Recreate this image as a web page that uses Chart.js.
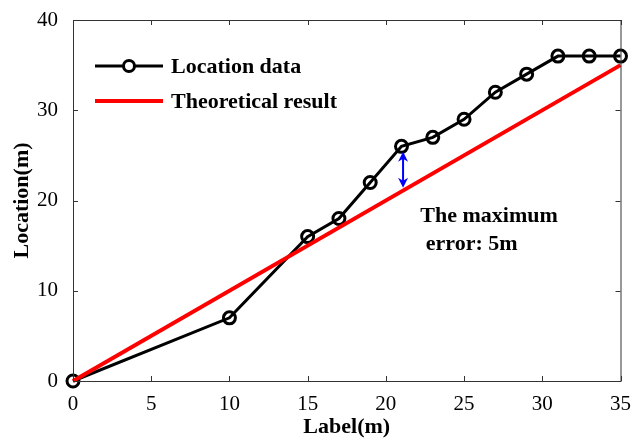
<!DOCTYPE html>
<html>
<head>
<meta charset="utf-8">
<script src="https://cdn.jsdelivr.net/npm/chart.js@4/dist/chart.umd.min.js"></script>
<style>
  html, body { margin: 0; padding: 0; background: #fff; }
  #wrap { width: 634px; height: 441px; }
</style>
</head>
<body>
<div id="wrap"><canvas id="c" width="634" height="441"></canvas></div>
<script>
// Data
const labelX    = [0, 10, 15, 17, 19, 21, 23, 25, 27, 29, 31, 33, 35];
const locationY = [0, 7, 16, 18, 22, 26, 27, 29, 32, 34, 36, 36, 36];
const theoryX   = [0, 35];
const theoryY   = [0, 35];
const xTicks    = [0, 5, 10, 15, 20, 25, 30, 35];
const yTicks    = [0, 10, 20, 30, 40];
const errorAt   = { x: 21.1, from: 25.4, to: 21.4 };
const noteLines = ['The maximum', ' error: 5m'];

const SERIF = '"Liberation Serif", "Times New Roman", serif';
const AXIS  = '#333';

// inward MATLAB-style ticks + full box
const boxTicks = {
  id: 'boxTicks',
  afterDraw(chart) {
    const { ctx, chartArea: a, scales: { x, y } } = chart;
    ctx.save();
    ctx.strokeStyle = AXIS;
    ctx.lineWidth = 1;
    ctx.strokeRect(a.left + 0.5, a.top + 0.5, a.right - a.left, a.bottom - a.top);
    ctx.beginPath();
    xTicks.forEach(v => {
      const px = Math.round(x.getPixelForValue(v)) + 0.5;
      ctx.moveTo(px, a.bottom); ctx.lineTo(px, a.bottom - 5);
      ctx.moveTo(px, a.top);    ctx.lineTo(px, a.top + 5);
    });
    yTicks.forEach(v => {
      const py = Math.round(y.getPixelForValue(v)) + 0.5;
      ctx.moveTo(a.left, py);  ctx.lineTo(a.left + 5, py);
      ctx.moveTo(a.right, py); ctx.lineTo(a.right - 5, py);
    });
    ctx.stroke();
    ctx.restore();
  }
};

// legend inside the axes, annotation arrow and note
const extras = {
  id: 'extras',
  afterDraw(chart) {
    const { ctx, chartArea: a, scales: { x, y } } = chart;
    ctx.save();

    // legend
    const lx = a.left + 22, ly = a.top + 46;
    ctx.lineWidth = 3;
    ctx.strokeStyle = '#000';
    ctx.beginPath(); ctx.moveTo(lx, ly); ctx.lineTo(lx + 68, ly); ctx.stroke();
    ctx.fillStyle = '#fff';
    ctx.beginPath(); ctx.arc(lx + 34, ly, 5.5, 0, Math.PI * 2); ctx.fill(); ctx.stroke();
    ctx.strokeStyle = '#ff0000';
    ctx.lineWidth = 4;
    ctx.beginPath(); ctx.moveTo(lx, ly + 35); ctx.lineTo(lx + 68, ly + 35); ctx.stroke();
    ctx.fillStyle = '#000';
    ctx.font = 'bold 22px ' + SERIF;
    ctx.textBaseline = 'middle';
    ctx.fillText('Location data', lx + 76, ly + 1);
    ctx.fillText('Theoretical result', lx + 76, ly + 36);

    // error arrow
    const ax = x.getPixelForValue(errorAt.x);
    const y1 = y.getPixelForValue(errorAt.from);
    const y2 = y.getPixelForValue(errorAt.to);
    ctx.strokeStyle = '#0000ff';
    ctx.fillStyle = '#0000ff';
    ctx.lineWidth = 2;
    ctx.beginPath(); ctx.moveTo(ax, y1 + 4); ctx.lineTo(ax, y2 - 4); ctx.stroke();
    ctx.beginPath(); ctx.moveTo(ax, y1); ctx.lineTo(ax - 5, y1 + 10); ctx.lineTo(ax, y1 + 7); ctx.lineTo(ax + 5, y1 + 10); ctx.closePath(); ctx.fill();
    ctx.beginPath(); ctx.moveTo(ax, y2); ctx.lineTo(ax - 5, y2 - 10); ctx.lineTo(ax, y2 - 7); ctx.lineTo(ax + 5, y2 - 10); ctx.closePath(); ctx.fill();

    // note
    ctx.fillStyle = '#000';
    ctx.font = 'bold 22px ' + SERIF;
    ctx.textBaseline = 'middle';
    ctx.textAlign = 'left';
    const nx = x.getPixelForValue(22.2);
    ctx.fillText(noteLines[0], nx, y.getPixelForValue(18.2));
    ctx.fillText(noteLines[1], nx, y.getPixelForValue(15.2));
    ctx.restore();
  }
};

new Chart(document.getElementById('c'), {
  type: 'line',
  data: {
    datasets: [
      {
        label: 'Location data',
        data: labelX.map((v, i) => ({ x: v, y: locationY[i] })),
        borderColor: '#000',
        backgroundColor: '#fff',
        borderWidth: 3,
        pointRadius: 6,
        pointBorderWidth: 3,
        pointBorderColor: '#000',
        pointBackgroundColor: 'rgba(255,255,255,0)',
        tension: 0,
        order: 1,
        clip: false,
      },
      {
        label: 'Theoretical result',
        data: theoryX.map((v, i) => ({ x: v, y: theoryY[i] })),
        borderColor: '#ff0000',
        borderWidth: 4,
        pointRadius: 0,
        tension: 0,
        order: 0,
        clip: false,
      },
    ],
  },
  options: {
    responsive: false,
    animation: false,
    layout: { padding: { left: 0, right: 12, top: 20, bottom: 0 } },
    plugins: { legend: { display: false }, tooltip: { enabled: false } },
    scales: {
      x: {
        type: 'linear',
        min: 0, max: 35,
        afterBuildTicks: s => { s.ticks = xTicks.map(v => ({ value: v })); },
        afterFit: s => { s.height = 60; },
        grid: { display: false },
        border: { display: false },
        ticks: { color: '#000', font: { family: SERIF, size: 21 }, padding: 3, maxRotation: 0 },
        title: { display: true, text: 'Label(m)', color: '#000', font: { family: SERIF, size: 22, weight: 'bold' }, padding: { top: 0, bottom: 0 } },
      },
      y: {
        min: 0, max: 40,
        afterBuildTicks: s => { s.ticks = yTicks.map(v => ({ value: v })); },
        afterFit: s => { s.width = 73; },
        grid: { display: false },
        border: { display: false },
        ticks: { color: '#000', font: { family: SERIF, size: 21 }, padding: 7 },
        title: { display: true, text: 'Location(m)', color: '#000', font: { family: SERIF, size: 22, weight: 'bold' }, padding: { top: 9, bottom: 0 } },
      },
    },
  },
  plugins: [boxTicks, extras],
});
</script>
</body>
</html>
